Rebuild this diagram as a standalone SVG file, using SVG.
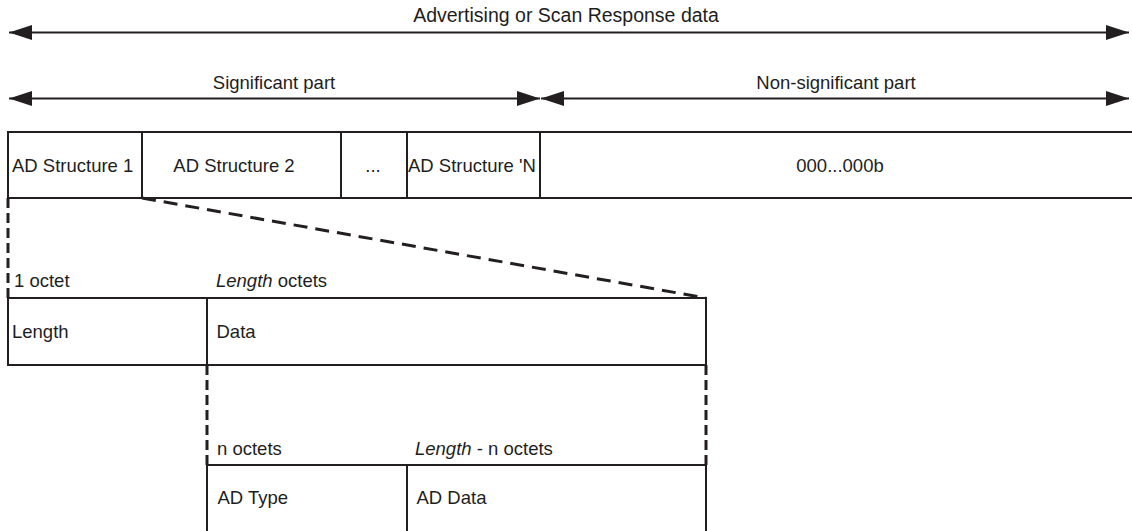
<svg xmlns="http://www.w3.org/2000/svg" width="1132" height="531" viewBox="0 0 1132 531">
  <style>
    text { font-family: "Liberation Sans", Arial, sans-serif; font-size: 18.5px; fill: #1e1e1e; }
    .mid { text-anchor: middle; }
    .it { font-style: italic; }
    .title { font-size: 19.5px; }
    .box { fill: none; stroke: #231f20; stroke-width: 2; }
    .dim { stroke: #231f20; stroke-width: 2.2; fill: none; }
    .zoom { stroke: #231f20; stroke-width: 3; fill: none; stroke-dasharray: 14 8; }
    .zoomv { stroke: #231f20; stroke-width: 3; fill: none; stroke-dasharray: 10 5; }
  </style>
  <defs>
    <marker id="head" viewBox="0 0 23 15" refX="23" refY="7.5" markerWidth="23" markerHeight="15" markerUnits="userSpaceOnUse" orient="auto-start-reverse">
      <path d="M0,0 L23,7.5 L0,15 Z" fill="#231f20"/>
    </marker>
  </defs>

  <rect width="1132" height="531" fill="#ffffff"/>

  <!-- dimension arrows -->
  <g id="connectors">
    <line class="dim" x1="9" y1="32.5" x2="1129" y2="32.5" marker-start="url(#head)" marker-end="url(#head)"/>
    <line class="dim" x1="9" y1="98.5" x2="540" y2="98.5" marker-start="url(#head)" marker-end="url(#head)"/>
    <line class="dim" x1="541" y1="98.5" x2="1129" y2="98.5" marker-start="url(#head)" marker-end="url(#head)"/>
    <!-- expansion of AD Structure 1 -->
    <line class="zoomv" x1="8" y1="198" x2="8" y2="298"/>
    <line class="zoom" x1="142" y1="198" x2="706" y2="298"/>
    <!-- expansion of Data -->
    <line class="zoomv" x1="207" y1="365" x2="207" y2="465"/>
    <line class="zoomv" x1="706" y1="365" x2="706" y2="465"/>
  </g>

  <g id="label-all">
    <text class="mid title" x="566" y="22">Advertising or Scan Response data</text>
  </g>
  <g id="label-significant">
    <text class="mid" x="274" y="89">Significant part</text>
  </g>
  <g id="label-nonsignificant">
    <text class="mid" x="836" y="89">Non-significant part</text>
  </g>

  <!-- top row: AD structures -->
  <g id="row-structures">
    <line class="box" x1="8" y1="132" x2="1132" y2="132"/>
    <line class="box" x1="8" y1="198" x2="1132" y2="198"/>
    <line class="box" x1="8" y1="131" x2="8" y2="199"/>
  </g>
  <g id="ad-structure-1">
    <line class="box" x1="142" y1="132" x2="142" y2="198"/>
    <text x="12" y="172">AD Structure 1</text>
  </g>
  <g id="ad-structure-2">
    <line class="box" x1="341" y1="132" x2="341" y2="198"/>
    <text class="mid" x="234" y="172">AD Structure 2</text>
  </g>
  <g id="ad-structure-ellipsis">
    <line class="box" x1="407" y1="132" x2="407" y2="198"/>
    <text class="mid" x="373" y="172">...</text>
  </g>
  <g id="ad-structure-n">
    <line class="box" x1="540" y1="132" x2="540" y2="198"/>
    <text x="408" y="172">AD Structure 'N</text>
  </g>
  <g id="padding">
    <text class="mid" x="840" y="172">000...000b</text>
  </g>

  <!-- middle row: Length / Data -->
  <g id="length-field">
    <text x="14" y="287">1 octet</text>
    <rect class="box" x="8" y="298" width="199" height="67"/>
    <text x="12" y="338">Length</text>
  </g>
  <g id="data-field">
    <text x="216" y="287"><tspan class="it">Length</tspan> octets</text>
    <rect class="box" x="207" y="298" width="499" height="67"/>
    <text x="216.5" y="338">Data</text>
  </g>

  <!-- bottom row: AD Type / AD Data -->
  <g id="ad-type-field">
    <text x="217" y="455">n octets</text>
    <path class="box" d="M207,531 V465 H407"/>
    <text x="217.5" y="504">AD Type</text>
  </g>
  <g id="ad-data-field">
    <text x="415" y="455"><tspan class="it">Length</tspan> - n octets</text>
    <path class="box" d="M407,531 V465 H706 V531"/>
    <text x="416.5" y="504">AD Data</text>
  </g>
</svg>
